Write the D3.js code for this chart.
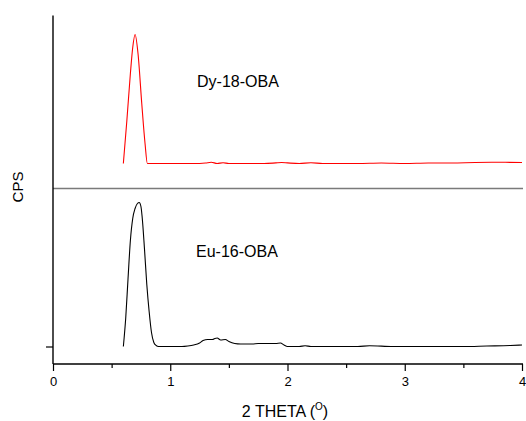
<!DOCTYPE html>
<html><head><meta charset="utf-8">
<script src="https://cdn.jsdelivr.net/npm/d3@7"></script>
<style>body{margin:0;background:#fff}svg{display:block}text{font-family:Arial,"Liberation Sans",sans-serif}</style>
</head><body><svg id="c" width="526" height="421"></svg>
<script>
// 2θ values and intensities (CPS, arbitrary units)
const euTheta = [0.60,0.62,0.64,0.66,0.68,0.70,0.72,0.735,0.75,0.76,0.78,0.80,0.82,0.84,0.86,0.88,0.90,1.00,1.10,1.15,1.20,1.25,1.28,1.32,1.36,1.38,1.40,1.43,1.47,1.50,1.55,1.60,1.65,1.70,1.75,1.80,1.85,1.90,1.94,1.97,2.00,2.10,2.15,2.20,2.40,2.60,2.70,2.90,3.20,3.50,3.70,3.90,4.00];
const euCPS   = [0,28,68,106,128,138,143,144,140,130,98,62,35,14,4,1,0,0,0,0.5,1.5,3.5,6,7,7,8,8.5,6.5,7,5,3,2.5,2.5,2.5,3,3,3,3,3.5,1.5,0,0,0.8,0,0,0,0.8,0,0,0,0.5,1,1.5];
const dyTheta = [0.60,0.63,0.66,0.68,0.70,0.725,0.757,0.785,0.805,0.90,1.00,1.20,1.30,1.35,1.40,1.45,1.50,1.60,1.80,1.90,1.95,2.00,2.10,2.20,2.30,2.60,2.80,3.00,3.20,3.40,3.60,3.80,4.00];
const dyCPS   = [0,43,90,116,129,110,60,20,0,0,0,0,0.5,1.2,0,0.8,0,0,0,0.6,1,0.6,0,0.8,0,0,0.5,0,0.5,0.5,1,1.2,1];
const dyOffset = 183;        // vertical stacking offset of the Dy trace
const separatorCPS = 158;    // panel separator level
const xTicks = [0,1,2,3,4];
const xMinorTicks = [0.5,1.5,2.5,3.5];
const yTicks = [0];
const labels = {dy:"Dy-18-OBA", eu:"Eu-16-OBA", y:"CPS", x:"2 THETA ("};

const svg = d3.select("#c");
const x = d3.scaleLinear().domain([0,4]).range([53,522]);
const y = d3.scaleLinear().domain([-17.5,331]).range([364,15.5]);

const line = d3.line().x(d=>x(d[0])).y(d=>y(d[1])).curve(d3.curveMonotoneX);

// separator
svg.append("line").attr("x1",x(0)).attr("x2",523).attr("y1",y(separatorCPS)).attr("y2",y(separatorCPS))
  .attr("stroke","#7a7a7a").attr("stroke-width",1.7);

// traces
svg.append("path").datum(dyTheta.map((t,i)=>[t,dyCPS[i]+dyOffset]))
  .attr("d",line).attr("fill","none").attr("stroke","#ff0000").attr("stroke-width",1.1);
svg.append("path").datum(euTheta.map((t,i)=>[t,euCPS[i]]))
  .attr("d",line).attr("fill","none").attr("stroke","#000").attr("stroke-width",1.1);

// x axis
const gx = svg.append("g").attr("transform",`translate(0,${y.range()[0]})`)
  .call(d3.axisBottom(x).tickValues(xTicks).tickFormat(d3.format("d")).tickSize(7).tickPadding(6));
svg.append("g").attr("transform",`translate(0,${y.range()[0]})`)
  .call(d3.axisBottom(x).tickValues(xMinorTicks).tickFormat("").tickSize(4).tickSizeOuter(0))
  .select(".domain").remove();
gx.selectAll("text").attr("font-size",13).attr("fill","#000");
// y axis
const gy = svg.append("g").attr("transform",`translate(${x(0)},0)`)
  .call(d3.axisLeft(y).tickValues(yTicks).tickFormat("").tickSize(7).tickSizeOuter(0));
svg.selectAll(".domain").attr("stroke","#000").attr("stroke-width",1.4);
svg.selectAll(".tick line").attr("stroke","#000").attr("stroke-width",1.2);
gx.select(".domain").attr("d",`M${x(0)},0H${x(4)+1}`);
gy.select(".domain").attr("d",`M0,${y.range()[1]}V${y.range()[0]}`);

// labels
svg.append("text").attr("x",197).attr("y",87).attr("font-size",16).text(labels.dy);
svg.append("text").attr("x",196).attr("y",257).attr("font-size",16).text(labels.eu);
svg.append("text").attr("transform","translate(23,187) rotate(-90)").attr("text-anchor","middle")
  .attr("font-size",15).text(labels.y);
const xl = svg.append("text").attr("x",285).attr("y",417).attr("text-anchor","middle").attr("font-size",16);
xl.append("tspan").text(labels.x);
xl.append("tspan").attr("dy",-7).attr("font-size",10).text("O");
xl.append("tspan").attr("dy",7).text(")");
</script></body></html>
